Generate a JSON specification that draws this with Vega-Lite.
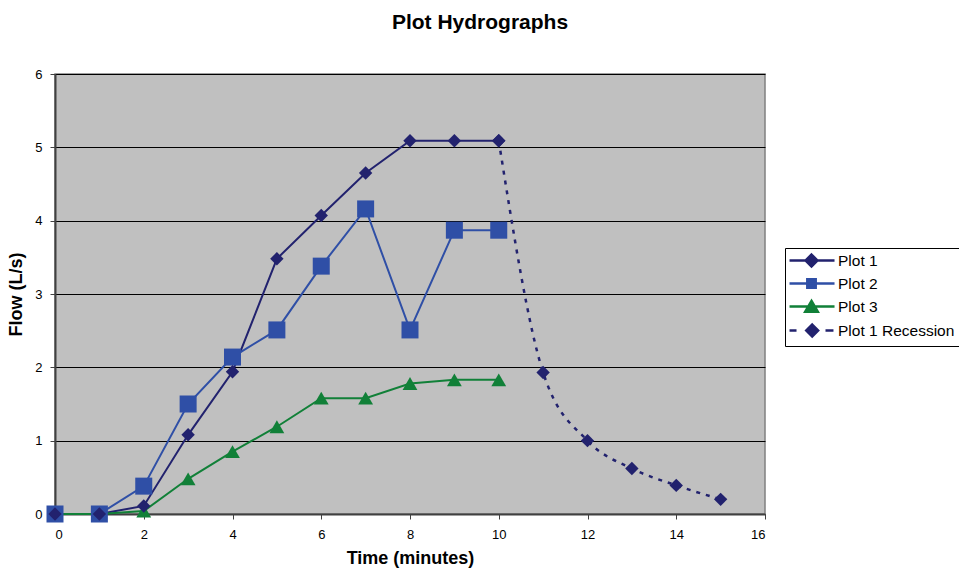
{
  "$schema": "https://vega.github.io/schema/vega-lite/v6.json",
  "autosize": {"type": "none"},
  "padding": {"left": 55, "top": 74, "right": 194, "bottom": 54},
  "width": 710,
  "height": 440,
  "title": {"text": "Plot Hydrographs", "font": "Liberation Sans", "fontSize": 21, "fontWeight": "bold", "color": "#000000", "offset": 35, "dx": 70, "anchor": "middle"},
  "data": {"values": [
    {"series": "Plot 1", "time": 0, "flow": 0},
    {"series": "Plot 1", "time": 1, "flow": 0},
    {"series": "Plot 1", "time": 2, "flow": 0.11},
    {"series": "Plot 1", "time": 3, "flow": 1.08},
    {"series": "Plot 1", "time": 4, "flow": 1.94},
    {"series": "Plot 1", "time": 5, "flow": 3.48},
    {"series": "Plot 1", "time": 6, "flow": 4.07},
    {"series": "Plot 1", "time": 7, "flow": 4.65},
    {"series": "Plot 1", "time": 8, "flow": 5.09},
    {"series": "Plot 1", "time": 9, "flow": 5.09},
    {"series": "Plot 1", "time": 10, "flow": 5.09},
    {"series": "Plot 2", "time": 0, "flow": 0},
    {"series": "Plot 2", "time": 1, "flow": 0},
    {"series": "Plot 2", "time": 2, "flow": 0.38},
    {"series": "Plot 2", "time": 3, "flow": 1.5},
    {"series": "Plot 2", "time": 4, "flow": 2.14},
    {"series": "Plot 2", "time": 5, "flow": 2.51},
    {"series": "Plot 2", "time": 6, "flow": 3.38},
    {"series": "Plot 2", "time": 7, "flow": 4.16},
    {"series": "Plot 2", "time": 8, "flow": 2.51},
    {"series": "Plot 2", "time": 9, "flow": 3.87},
    {"series": "Plot 2", "time": 10, "flow": 3.87},
    {"series": "Plot 3", "time": 0, "flow": 0},
    {"series": "Plot 3", "time": 1, "flow": 0},
    {"series": "Plot 3", "time": 2, "flow": 0.04},
    {"series": "Plot 3", "time": 3, "flow": 0.48},
    {"series": "Plot 3", "time": 4, "flow": 0.85},
    {"series": "Plot 3", "time": 5, "flow": 1.19},
    {"series": "Plot 3", "time": 6, "flow": 1.58},
    {"series": "Plot 3", "time": 7, "flow": 1.58},
    {"series": "Plot 3", "time": 8, "flow": 1.78},
    {"series": "Plot 3", "time": 9, "flow": 1.83},
    {"series": "Plot 3", "time": 10, "flow": 1.83},
    {"series": "Plot 1 Recession", "time": 10, "flow": 5.09},
    {"series": "Plot 1 Recession", "time": 11, "flow": 1.93},
    {"series": "Plot 1 Recession", "time": 12, "flow": 1.0},
    {"series": "Plot 1 Recession", "time": 13, "flow": 0.62},
    {"series": "Plot 1 Recession", "time": 14, "flow": 0.39},
    {"series": "Plot 1 Recession", "time": 15, "flow": 0.2}
  ]},
  "encoding": {
    "x": {"field": "time", "type": "quantitative", "scale": {"domain": [0, 16], "nice": false},
      "axis": {"title": "Time (minutes)", "values": [0, 2, 4, 6, 8, 10, 12, 14, 16], "grid": false, "format": "d"}},
    "y": {"field": "flow", "type": "quantitative", "scale": {"domain": [0, 6], "nice": false},
      "axis": {"title": "Flow (L/s)", "values": [0, 1, 2, 3, 4, 5, 6], "grid": true, "format": "d"}},
    "color": {"field": "series", "type": "nominal",
      "scale": {"domain": ["Plot 1", "Plot 2", "Plot 3", "Plot 1 Recession"], "range": ["#22226E", "#2F4FA6", "#118038", "#22226E"]},
      "legend": {
        "title": null,
        "orient": "none",
        "legendX": 730,
        "legendY": 174,
        "symbolSize": 196,
        "labelOffset": 32,
        "padding": 4,
        "rowPadding": 2,
        "labelFont": "Liberation Sans",
        "labelFontSize": 15.5,
        "labelColor": "#000000",
        "strokeColor": "#000000",
        "fillColor": "#FFFFFF",
        "labelLimit": 300,
        "encode": {"symbols": {"update": {
          "shape": {"signal": "datum.value === 'Plot 1' ? 'M-1.14,0H5.29M2,-0.85L2.85,0L2,0.85L1.15,0Z' : datum.value === 'Plot 2' ? 'M-1.14,0H5.29M1.4,-0.6H2.6V0.6H1.4Z' : datum.value === 'Plot 3' ? 'M-1.14,0H5.29M2,-0.8L2.9,0.75H1.1Z' : 'M-1.14,0H-0.14M4,0H5.14M2.1,-0.85L2.95,0L2.1,0.85L1.25,0Z'"},
          "fill": {"scale": "color", "field": "value"},
          "stroke": {"scale": "color", "field": "value"},
          "strokeWidth": {"value": 2.5},
          "strokeDash": {"value": []},
          "opacity": {"value": 1}
        }}}
      }}
  },
  "layer": [
    {"transform": [{"filter": "datum.series !== 'Plot 1 Recession'"}],
     "mark": {"type": "line", "strokeWidth": 2}},
    {"transform": [{"filter": "datum.series === 'Plot 1 Recession'"}],
     "mark": {"type": "line", "strokeWidth": 2.5, "strokeDash": [4, 6], "interpolate": "monotone"}},
    {"transform": [{"filter": "datum.series === 'Plot 3'"}],
     "mark": {"type": "point", "shape": "triangle-up", "filled": true, "opacity": 1, "size": 220}},
    {"transform": [{"filter": "datum.series === 'Plot 2'"}],
     "mark": {"type": "point", "shape": "square", "filled": true, "opacity": 1, "size": 289}},
    {"transform": [{"filter": "datum.series === 'Plot 1' || datum.series === 'Plot 1 Recession'"}],
     "mark": {"type": "point", "shape": "diamond", "filled": true, "opacity": 1, "size": 180}}
  ],
  "config": {
    "view": {"fill": "#C0C0C0", "stroke": "#808080", "strokeWidth": 1.5},
    "axis": {
      "labelFont": "Liberation Sans",
      "labelFontSize": 13,
      "labelColor": "#000000",
      "titleFont": "Liberation Sans",
      "titleFontSize": 18,
      "titleFontWeight": "bold",
      "titleColor": "#000000",
      "domainColor": "#404040",
      "domainWidth": 2,
      "tickColor": "#404040",
      "tickSize": 5,
      "gridColor": "#000000",
      "gridWidth": 1,
      "gridOpacity": 1
    },
    "axisX": {"labelPadding": 9, "titlePadding": 8},
    "axisY": {"labelPadding": 8, "titlePadding": 9}
  }
}
